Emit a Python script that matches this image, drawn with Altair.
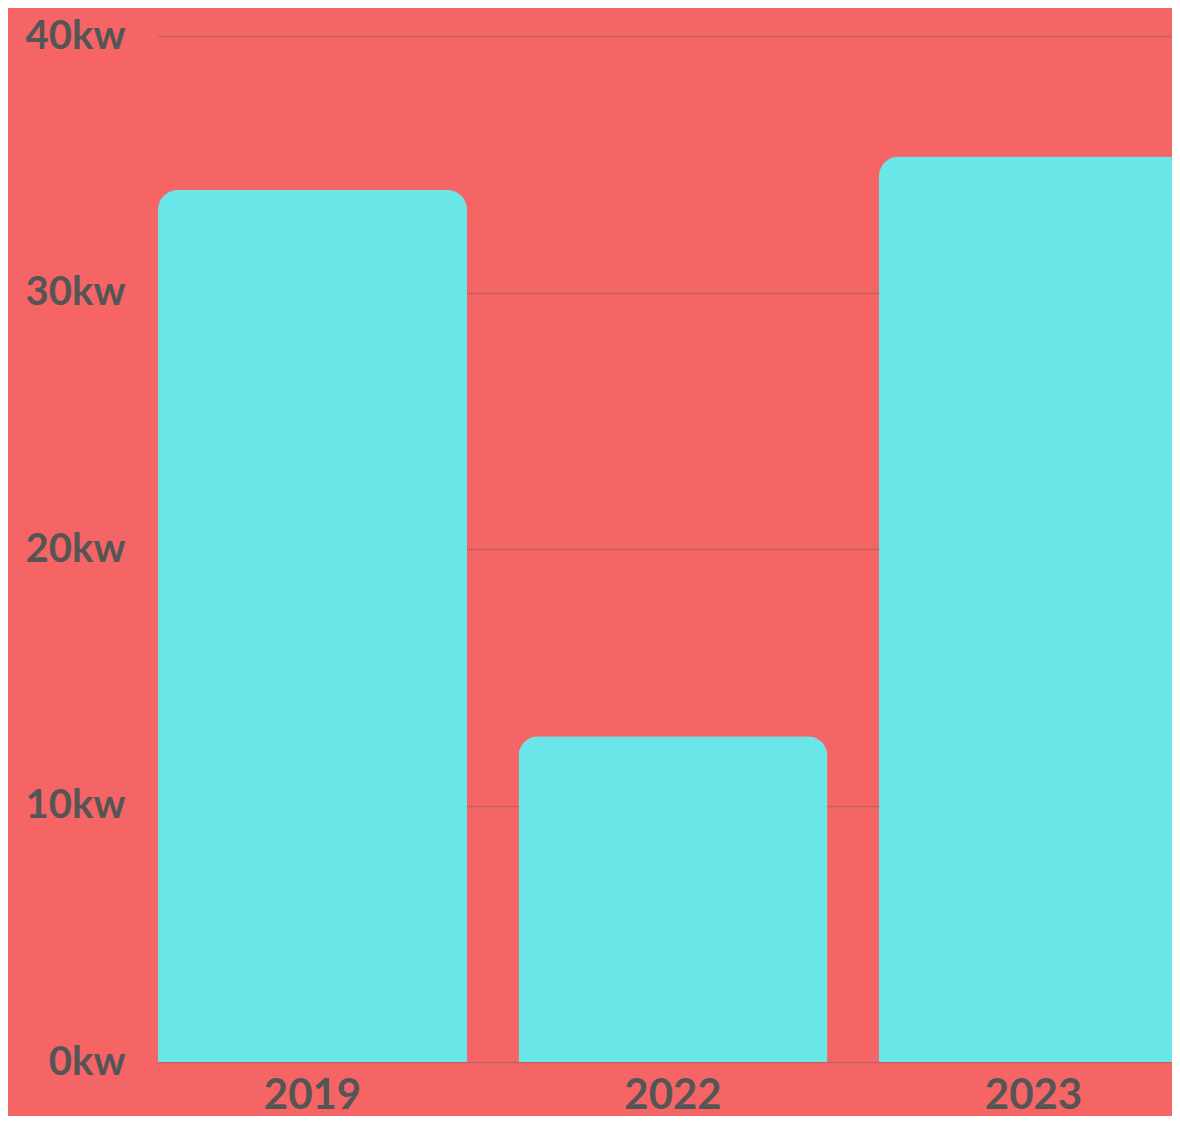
import altair as alt
import pandas as pd

years = ["2019", "2022", "2023"]
power_kw = [34.0, 12.7, 35.3]

df = pd.DataFrame({"year": years, "kw": power_kw})

bars = alt.Chart(df).mark_bar(
    color="#6AE6E8",
    cornerRadiusTopLeft=20,
    cornerRadiusTopRight=20,
).encode(
    x=alt.X(
        "year:N",
        sort=years,
        scale=alt.Scale(range=[0, 1030], paddingInner=1 / 7, paddingOuter=0),
        axis=alt.Axis(
            title=None,
            labelAngle=0,
            domain=False,
            ticks=False,
            grid=False,
            labelFont="Lato",
            labelFontWeight="bold",
            labelFontSize=42,
            labelColor="#555555",
            labelPadding=46,
            labelBaseline="alphabetic",
        ),
    ),
    y=alt.Y(
        "kw:Q",
        scale=alt.Scale(domain=[0, 40], nice=False),
        axis=alt.Axis(
            title=None,
            values=[0, 10, 20, 30, 40],
            labelExpr="datum.value + 'kw'",
            domain=False,
            ticks=False,
            grid=True,
            gridColor="#555555",
            gridOpacity=0.3,
            gridWidth=1.5,
            labelFont="Lato",
            labelFontWeight="bold",
            labelFontSize=40,
            labelColor="#555555",
            labelPadding=33,
        ),
    ),
)

chart = bars.properties(
    width=1014,
    height=1026,
    autosize=alt.AutoSizeParams(type="none"),
    padding={"left": 150, "top": 28, "right": 0, "bottom": 54},
    background="#F56565",
).configure_view(stroke=None)

chart.save("out.html", embed_options={"renderer": "svg", "actions": False})
